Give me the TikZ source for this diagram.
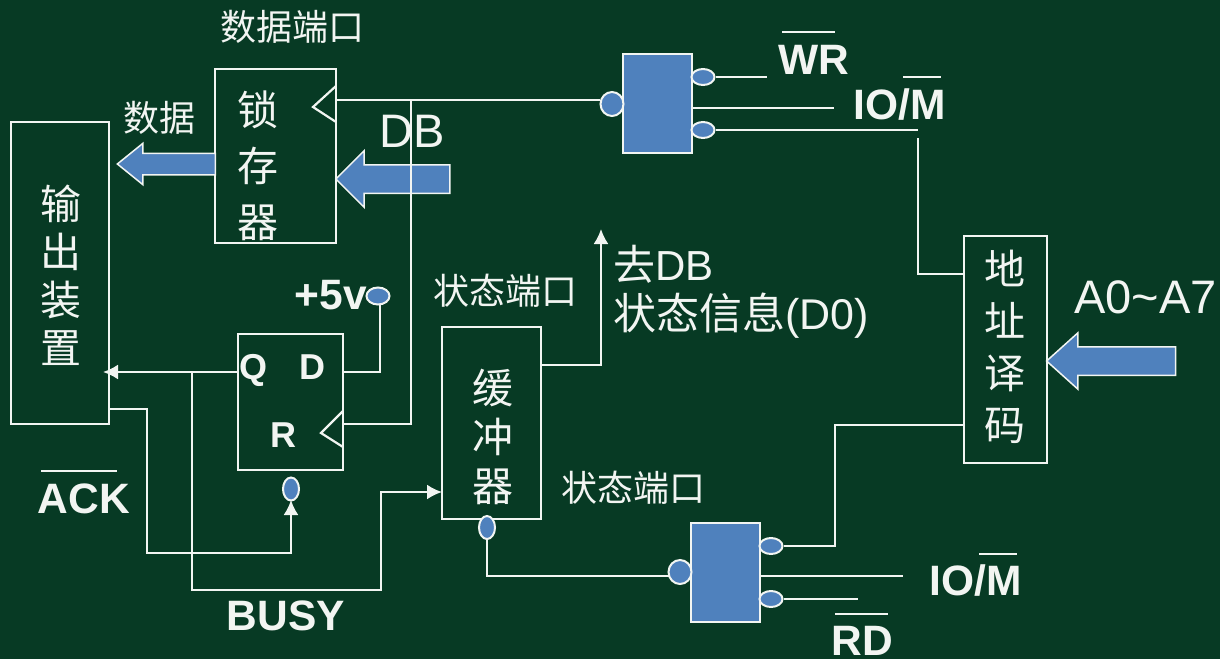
\documentclass[tikz,border=0pt]{standalone}
\usepackage{fontspec}
\setmainfont{Liberation Sans}
\newfontfamily\cjk{Noto Sans CJK SC}
\usetikzlibrary{shapes.geometric,shapes.arrows,arrows.meta}
\definecolor{board}{HTML}{073A24}
\definecolor{fillblue}{HTML}{4F81BD}
\definecolor{chalk}{HTML}{F2F5F2}
\tikzset{
  wire/.style = {draw=chalk, line width=2.2pt},
  wirearrow/.style = {wire, -{Latex[length=15pt,width=15pt]}},
  block/.style = {shape=rectangle, draw=chalk, line width=2.2pt, inner sep=0pt},
  gate/.style = {block, fill=fillblue, minimum width=69pt, minimum height=99pt},
  bubble/.style = {shape=ellipse, draw=chalk, fill=fillblue, line width=2pt, inner sep=0pt},
  sidebubble/.style = {bubble, minimum width=23pt, minimum height=16pt},
  tallbubble/.style = {bubble, minimum width=16pt, minimum height=23pt},
  roundbubble/.style = {bubble, minimum width=23pt, minimum height=24pt},
  bus/.style = {shape=single arrow, draw=chalk, fill=fillblue, line width=1.5pt, inner sep=0pt,
    shape border rotate=180, single arrow head indent=0pt},
  cnbig/.style = {text=chalk, align=center, inner sep=0pt, font=\cjk\fontsize{41}{#1}\selectfont},
  cnsmall/.style = {text=chalk, inner sep=0pt, font=\cjk\fontsize{36}{36}\selectfont},
  boldlabel/.style = {text=chalk, inner sep=0pt, font=\bfseries\fontsize{42.5}{42.5}\selectfont},
  pinlabel/.style = {text=chalk, inner sep=0pt, font=\bfseries\fontsize{36}{36}\selectfont},
  thinlabel/.style = {text=chalk, inner sep=0pt, anchor=west, font=\fontsize{#1}{#1}\selectfont},
  bar/.style = {draw=chalk, line width=2pt}
}
\begin{document}
\begin{tikzpicture}[x=1pt,y=-1pt]
  \fill[board] (0,0) rectangle (1220,659);
  \useasboundingbox (0,0) rectangle (1220,659);

  \node[block, minimum width=98pt, minimum height=302pt] (output) at (60,273) {};
  \node[block, minimum width=121pt, minimum height=174pt] (latch) at (275.5,156) {};
  \node[block, minimum width=105pt, minimum height=136pt] (flipflop) at (290.5,402) {};
  \node[block, minimum width=99pt, minimum height=192pt] (buffer) at (491.5,423) {};
  \node[block, minimum width=83pt, minimum height=227pt] (decoder) at (1005.5,349.5) {};
  \node[gate] (gateone) at (657.5,103.5) {};
  \node[gate] (gatetwo) at (725.5,572.5) {};

  \node[cnbig=48] (outputtext) at (61,275) {输\\出\\装\\置};
  \node[cnbig=56] (latchtext) at (258,166) {锁\\存\\器};
  \node[cnbig=49] (buffertext) at (493,437) {缓\\冲\\器};
  \node[cnbig=52] (decodertext) at (1005,347) {地\\址\\译\\码};

  \node[roundbubble] (gateoneclk) at (612,104) {};
  \node[sidebubble] (gateonea) at (703,77) {};
  \node[sidebubble] (gateoneb) at (703,130) {};
  \node[roundbubble] (gatetwoclk) at (680,572) {};
  \node[sidebubble] (gatetwoa) at (771,546) {};
  \node[sidebubble] (gatetwob) at (771,599) {};
  \node[sidebubble, minimum height=17pt] (vcc) at (378,296) {};
  \node[tallbubble] (ffreset) at (291,489) {};
  \node[tallbubble] (bufferen) at (487,527.5) {};

  \node[bus, text height=10pt, text depth=10pt, minimum height=98pt, minimum width=40pt,
    single arrow head extend=10pt, single arrow tip angle=78] (dataout) at (173,164) {};
  \node[bus, text height=13.5pt, text depth=13.5pt, minimum height=114pt, minimum width=55pt,
    single arrow head extend=14pt] (dbin) at (400,179) {};
  \node[bus, text height=13.5pt, text depth=13.5pt, minimum height=129pt, minimum width=55pt,
    single arrow head extend=14pt, single arrow tip angle=84] (addrin) at (1119,361) {};

  \coordinate (latchclk) at (336,100);
  \coordinate (dbtap) at (411,100);
  \coordinate (ffclk) at (343,424);
  \coordinate (ffq) at (238,372);
  \coordinate (ffd) at (343,372);
  \coordinate (busytap) at (192,372);
  \coordinate (outin) at (103,372);
  \coordinate (ackout) at (109,409);
  \coordinate (bufferin) at (442,492);
  \coordinate (bufferout) at (541,365);
  \coordinate (statusup) at (601,229);
  \coordinate (wrend) at (767,77);
  \coordinate (iooneend) at (834,108);
  \coordinate (ioonestart) at (692,108);
  \coordinate (addrone) at (918,130);
  \coordinate (addronegap) at (918,138);
  \coordinate (addroneend) at (964,274);
  \coordinate (addrtwoend) at (964,425);
  \coordinate (addrtwoknee) at (835,546);
  \coordinate (iotwostart) at (760,576);
  \coordinate (iotwoend) at (903,576);
  \coordinate (rdend) at (858,599);
  \coordinate (enline) at (669,576);

  \draw[wire] (latchclk) -- (gateoneclk.west |- latchclk);
  \draw[wire] (dbtap) -- (dbtap |- ffclk) -- (ffclk);
  \draw[wire] (336,86) -- (313,107) -- (336,122);
  \draw[wire] (343,411) -- (321,433) -- (343,447);
  \draw[wire] (380,304) -- (380,372) -- (ffd);
  \draw[wirearrow] (ffq) -- (outin);
  \draw[wirearrow] (busytap) -- (192,590) -- (381,590) -- (381,492) -- (bufferin);
  \draw[wirearrow] (ackout) -- (147,409) -- (147,553) -- (291,553) -- (291,500);
  \draw[wirearrow] (bufferout) -- (601,365) -- (statusup);
  \draw[wire] (gateonea.east) -- (wrend);
  \draw[wire] (ioonestart) -- (iooneend);
  \draw[wire] (gateoneb.east) -- (addrone);
  \draw[wire] (addronegap) |- (addroneend);
  \draw[wire] (gatetwoa.east) -- (addrtwoknee) -- (addrtwoknee |- addrtwoend) -- (addrtwoend);
  \draw[wire] (iotwostart) -- (iotwoend);
  \draw[wire] (gatetwob.east) -- (rdend);
  \draw[wire] (bufferen.south) |- (enline);

  \node[cnsmall] (dataport) at (292.5,27) {数据端口};
  \node[cnsmall] (datatext) at (159,118) {数据};
  \node[cnsmall] (statusportup) at (505.5,291) {状态端口};
  \node[cnsmall] (statusportdown) at (633,488) {状态端口};

  \node[thinlabel=47] (dblabel) at (379,131) {DB};
  \node[thinlabel=42] (togo) at (613,264) {{\cjk 去}DB};
  \node[thinlabel=43] (statusinfo) at (613,316) {{\cjk 状态信息}(D0)};
  \node[thinlabel=47] (addrlabel) at (1074,297) {A0\char`~A7};

  \node[boldlabel] (vcclabel) at (331,295) {+5v};
  \node[boldlabel] (acklabel) at (84,499) {ACK};
  \node[boldlabel] (busylabel) at (286,616) {BUSY};
  \node[boldlabel] (wrlabel) at (814,60) {WR};
  \node[boldlabel] (ioonelabel) at (900,105) {IO/M};
  \node[boldlabel] (iotwolabel) at (976,581) {IO/M};
  \node[boldlabel] (rdlabel) at (862,641) {RD};
  \node[pinlabel] (qlabel) at (253,370) {Q};
  \node[pinlabel] (dlabel) at (312,367) {D};
  \node[pinlabel] (rlabel) at (283,435) {R};

  \draw[bar] (41,471) -- (117,471);
  \draw[bar] (782,32) -- (835,32);
  \draw[bar] (903,77) -- (941,77);
  \draw[bar] (979,554) -- (1017,554);
  \draw[bar] (835,614) -- (888,614);
\end{tikzpicture}
\end{document}
